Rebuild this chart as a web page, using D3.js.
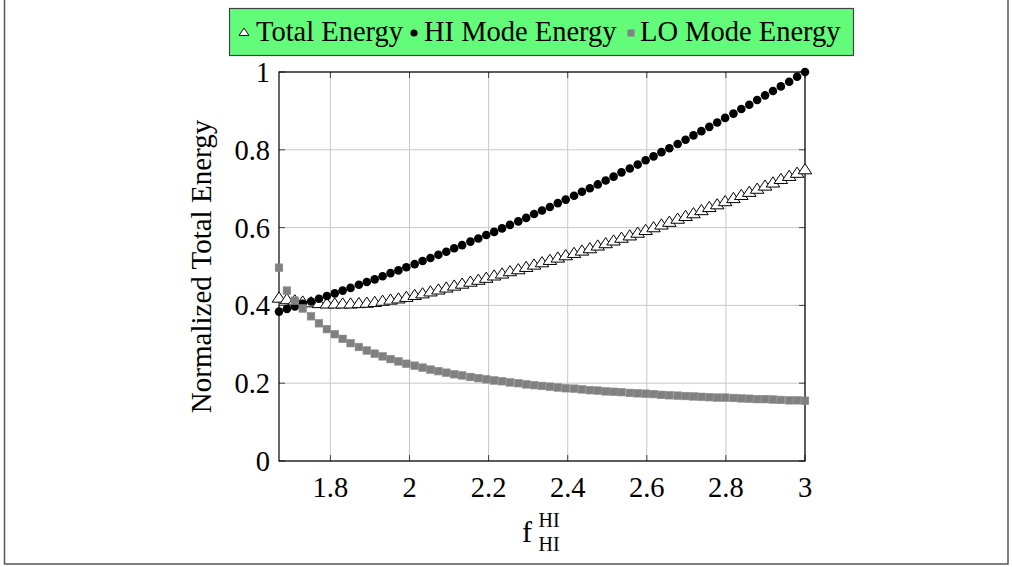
<!DOCTYPE html>
<html>
<head>
<meta charset="utf-8">
<script src="https://cdn.jsdelivr.net/npm/d3@7"></script>
<style>
  body { margin: 0; background: #fff; }
  svg { display: block; }
  text { font-family: "Liberation Serif", "DejaVu Serif", serif; fill: #000; }
</style>
</head>
<body>
<svg id="chart" width="1012" height="567"></svg>
<script>
const xValues = [
  1.670, 1.690, 1.710, 1.730, 1.751, 1.771, 1.791, 1.811, 1.831, 1.851,
  1.872, 1.892, 1.912, 1.932, 1.952, 1.972, 1.992, 2.013, 2.033, 2.053,
  2.073, 2.093, 2.113, 2.133, 2.154, 2.174, 2.194, 2.214, 2.234, 2.254,
  2.275, 2.295, 2.315, 2.335, 2.355, 2.375, 2.395, 2.416, 2.436, 2.456,
  2.476, 2.496, 2.516, 2.536, 2.557, 2.577, 2.597, 2.617, 2.637, 2.657,
  2.678, 2.698, 2.718, 2.738, 2.758, 2.778, 2.798, 2.819, 2.839, 2.859,
  2.879, 2.899, 2.919, 2.939, 2.960, 2.980, 3.000
];
const totalEnergy = [
  0.417, 0.413, 0.410, 0.407, 0.405, 0.403, 0.402, 0.402, 0.402, 0.402,
  0.403, 0.404, 0.406, 0.409, 0.412, 0.415, 0.419, 0.424, 0.428, 0.433,
  0.438, 0.443, 0.448, 0.453, 0.458, 0.463, 0.468, 0.474, 0.479, 0.485,
  0.490, 0.496, 0.502, 0.508, 0.514, 0.520, 0.526, 0.532, 0.538, 0.544,
  0.551, 0.557, 0.564, 0.571, 0.577, 0.584, 0.591, 0.598, 0.605, 0.612,
  0.620, 0.627, 0.634, 0.642, 0.650, 0.657, 0.665, 0.673, 0.681, 0.689,
  0.697, 0.705, 0.713, 0.722, 0.730, 0.738, 0.747
];
const hiEnergy = [
  0.384, 0.391, 0.397, 0.404, 0.410, 0.417, 0.424, 0.431, 0.438, 0.445,
  0.453, 0.460, 0.467, 0.475, 0.483, 0.490, 0.498, 0.506, 0.514, 0.522,
  0.530, 0.538, 0.547, 0.555, 0.564, 0.572, 0.581, 0.589, 0.598, 0.607,
  0.616, 0.625, 0.635, 0.644, 0.653, 0.663, 0.672, 0.682, 0.692, 0.701,
  0.711, 0.721, 0.731, 0.742, 0.752, 0.762, 0.773, 0.783, 0.794, 0.804,
  0.815, 0.826, 0.837, 0.848, 0.859, 0.870, 0.882, 0.893, 0.905, 0.916,
  0.928, 0.940, 0.951, 0.963, 0.975, 0.988, 1.000
];
const loEnergy = [
  0.497, 0.438, 0.412, 0.392, 0.372, 0.354, 0.339, 0.326, 0.314, 0.303,
  0.293, 0.284, 0.276, 0.269, 0.262, 0.256, 0.250, 0.245, 0.240, 0.235,
  0.231, 0.227, 0.223, 0.220, 0.216, 0.213, 0.210, 0.207, 0.205, 0.202,
  0.200, 0.197, 0.195, 0.193, 0.191, 0.189, 0.187, 0.186, 0.184, 0.182,
  0.181, 0.179, 0.178, 0.177, 0.175, 0.174, 0.173, 0.172, 0.170, 0.169,
  0.168, 0.167, 0.166, 0.165, 0.164, 0.163, 0.163, 0.162, 0.161, 0.160,
  0.159, 0.159, 0.158, 0.157, 0.156, 0.156, 0.155
];
const xTicks = [1.8, 2, 2.2, 2.4, 2.6, 2.8, 3];
const xTickLabels = ["1.8", "2", "2.2", "2.4", "2.6", "2.8", "3"];
const yTicks = [0, 0.2, 0.4, 0.6, 0.8, 1];
const yTickLabels = ["0", "0.2", "0.4", "0.6", "0.8", "1"];
const legendLabels = ["Total Energy", "HI Mode Energy", "LO Mode Energy"];

const svg = d3.select('#chart');

// outer frame of the page
svg.append('rect')
  .attr('x', 4.5).attr('y', -2).attr('width', 1003.5).attr('height', 566)
  .attr('fill', 'none').attr('stroke', '#555').attr('stroke-width', 1.5);

const plotL = 279, plotR = 805, plotT = 72, plotB = 461;
const x = d3.scaleLinear().domain([1.67, 3]).range([plotL, plotR]);
const y = d3.scaleLinear().domain([0, 1]).range([plotB, plotT]);

// grid
const grid = svg.append('g');
grid.selectAll('.vg').data(xTicks).enter().append('line')
  .attr('x1', d => x(d)).attr('x2', d => x(d))
  .attr('y1', plotT).attr('y2', plotB)
  .attr('stroke', '#c8c8c8').attr('stroke-width', 1);
grid.selectAll('.hg').data(yTicks).enter().append('line')
  .attr('x1', plotL).attr('x2', plotR)
  .attr('y1', d => y(d)).attr('y2', d => y(d))
  .attr('stroke', '#c8c8c8').attr('stroke-width', 1);

// inner tick marks on all four sides
const tk = 6;
const ticks = svg.append('g').attr('stroke', '#444').attr('stroke-width', 1);
xTicks.forEach(v => {
  ticks.append('line').attr('x1', x(v)).attr('x2', x(v)).attr('y1', plotB).attr('y2', plotB - tk);
  ticks.append('line').attr('x1', x(v)).attr('x2', x(v)).attr('y1', plotT).attr('y2', plotT + tk);
});
yTicks.forEach(v => {
  ticks.append('line').attr('x1', plotL).attr('x2', plotL + tk).attr('y1', y(v)).attr('y2', y(v));
  ticks.append('line').attr('x1', plotR).attr('x2', plotR - tk).attr('y1', y(v)).attr('y2', y(v));
});

// axis box
svg.append('rect')
  .attr('x', plotL).attr('y', plotT).attr('width', plotR - plotL).attr('height', plotB - plotT)
  .attr('fill', 'none').attr('stroke', '#000').attr('stroke-width', 1.2);

// tick labels
svg.selectAll('.xl').data(xTicks).enter().append('text')
  .attr('x', d => x(d)).attr('y', plotB + 36)
  .attr('text-anchor', 'middle').attr('font-size', 28.5)
  .text((d, i) => xTickLabels[i]);
svg.selectAll('.yl').data(yTicks).enter().append('text')
  .attr('x', plotL - 9).attr('y', d => y(d) + 10)
  .attr('text-anchor', 'end').attr('font-size', 28.5)
  .text((d, i) => yTickLabels[i]);

// axis titles
svg.append('text')
  .attr('transform', 'translate(211,' + ((plotT + plotB) / 2) + ') rotate(-90)')
  .attr('text-anchor', 'middle').attr('font-size', 29)
  .text('Normalized Total Energy');
const xt = svg.append('g');
xt.append('text').attr('x', 527).attr('y', 542).attr('text-anchor', 'middle')
  .attr('font-size', 30).text('f');
xt.append('text').attr('x', 549).attr('y', 527).attr('text-anchor', 'middle')
  .attr('font-size', 20).text('HI');
xt.append('text').attr('x', 549).attr('y', 551).attr('text-anchor', 'middle')
  .attr('font-size', 20).text('HI');

// markers
const triPath = s => {
  const r = s;
  return 'M0,' + (-r) + 'L' + (0.866 * r * 1.15) + ',' + (0.5 * r) + 'L' + (-0.866 * r * 1.15) + ',' + (0.5 * r) + 'Z';
};
const pts = xValues.map((v, i) => ({ x: v, t: totalEnergy[i], h: hiEnergy[i], l: loEnergy[i] }));

svg.append('g').selectAll('path').data(pts).enter().append('path')
  .attr('d', triPath(6.8))
  .attr('transform', d => 'translate(' + x(d.x) + ',' + y(d.t) + ')')
  .attr('fill', '#fff').attr('stroke', '#000').attr('stroke-width', 1);

svg.append('g').selectAll('circle').data(pts).enter().append('circle')
  .attr('cx', d => x(d.x)).attr('cy', d => y(d.h)).attr('r', 4.3)
  .attr('fill', '#000');

svg.append('g').selectAll('rect').data(pts).enter().append('rect')
  .attr('x', d => x(d.x) - 3.8).attr('y', d => y(d.l) - 3.8)
  .attr('width', 7.6).attr('height', 7.6)
  .attr('fill', '#808080').attr('stroke', '#8c8c8c').attr('stroke-width', 0.6);

// legend
const lg = svg.append('g');
lg.append('rect').attr('x', 229.5).attr('y', 8.5).attr('width', 624).attr('height', 47)
  .attr('fill', '#63fb7a').attr('stroke', '#444').attr('stroke-width', 1.2);
const legendX = [256, 424, 640];
const markerX = [244, 414, 631];
lg.append('path').attr('d', triPath(5)).attr('transform', 'translate(' + markerX[0] + ',33)')
  .attr('fill', '#fff').attr('stroke', '#000').attr('stroke-width', 0.9);
lg.append('circle').attr('cx', markerX[1]).attr('cy', 33).attr('r', 3.6).attr('fill', '#000');
lg.append('rect').attr('x', markerX[2] - 3.5).attr('y', 29.5).attr('width', 7).attr('height', 7)
  .attr('fill', '#808080');
lg.selectAll('.lt').data(legendLabels).enter().append('text')
  .attr('x', (d, i) => legendX[i]).attr('y', 41)
  .attr('font-size', 28.5)
  .text(d => d);
</script>
</body>
</html>
